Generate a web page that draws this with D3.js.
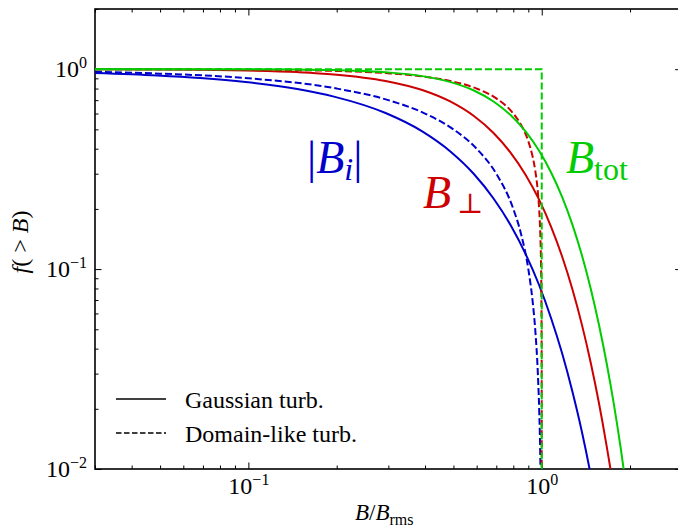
<!DOCTYPE html>
<html>
<head>
<meta charset="utf-8">
<script src="https://cdn.jsdelivr.net/npm/d3@7"></script>
<style>
  html, body { margin: 0; padding: 0; background: #fff; }
  svg { display: block; }
</style>
</head>
<body>
<div id="chart"></div>
<script>
// ---------------- data ----------------
const xDomain = [0.03, 3];
const yDomain = [0.01, 2];
const xTickLabels = [{v: 0.1, base: "10", exp: "\u22121"}, {v: 1, base: "10", exp: "0"}];
const yTickLabels = [{v: 0.01, base: "10", exp: "\u22122"}, {v: 0.1, base: "10", exp: "\u22121"}, {v: 1, base: "10", exp: "0"}];

// Gaussian turbulence (solid curves)
const xGauss     = [0.0294, 0.0489, 0.0685, 0.0978, 0.1468, 0.1957, 0.2935, 0.3914, 0.4892, 0.5871, 0.6849, 0.7828, 0.8806, 0.9785, 1.0763, 1.1742, 1.2720, 1.3699, 1.4677, 1.5656, 1.6634, 1.7613, 1.8591, 1.9570];
const blueSolid  = [0.9586, 0.9310, 0.9035, 0.8625, 0.7950, 0.7291, 0.6034, 0.4884, 0.3865, 0.2990, 0.2255, 0.1661, 0.1191, 0.0835, 0.0568, 0.0378, 0.0244, 0.0154, 0.0094, 0.0055, 0.0031, 0.0017, 0.0009, 0.0005];
const redSolid   = [0.9987, 0.9963, 0.9927, 0.9851, 0.9668, 0.9418, 0.8737, 0.7866, 0.6873, 0.5827, 0.4795, 0.3829, 0.2967, 0.2231, 0.1628, 0.1153, 0.0793, 0.0529, 0.0342, 0.0215, 0.0131, 0.0078, 0.0044, 0.0025];
const greenSolid = [1.0000, 0.9998, 0.9995, 0.9986, 0.9954, 0.9894, 0.9656, 0.9232, 0.8614, 0.7822, 0.6894, 0.5894, 0.4881, 0.3918, 0.3043, 0.2290, 0.1669, 0.1177, 0.0803, 0.0530, 0.0340, 0.0211, 0.0127, 0.0074];

// Domain-like turbulence (dashed curves)
const xBlueDash = [0.03, 0.05, 0.1, 0.2, 0.3, 0.4, 0.5, 0.6, 0.7, 0.8, 0.85, 0.9, 0.93, 0.95, 0.97, 0.98, 0.99, 0.995];
const blueDash  = [0.97, 0.95, 0.90, 0.80, 0.70, 0.60, 0.50, 0.40, 0.30, 0.20, 0.15, 0.10, 0.07, 0.05, 0.03, 0.02, 0.01, 0.005];
const xRedDash  = [0.03, 0.1, 0.2, 0.3, 0.4, 0.5, 0.6, 0.7, 0.8, 0.85, 0.9, 0.93, 0.95, 0.97, 0.98, 0.99, 0.995, 0.998, 0.999, 0.9995, 0.9999, 0.99995, 0.99999];
const redDash   = [0.9996, 0.9950, 0.9798, 0.9539, 0.9165, 0.8660, 0.8000, 0.7141, 0.6000, 0.5268, 0.4359, 0.3676, 0.3122, 0.2431, 0.1990, 0.1411, 0.0999, 0.0632, 0.0447, 0.0316, 0.0141, 0.0100, 0.0045];
const xGreenDash = [0.03, 1.0, 1.0];
const greenDash  = [1.0, 1.0, 0.005];

const colors = {blue: "#0000cc", red: "#cc0000", green: "#00cc00"};

// ---------------- layout ----------------
const W = 678, H = 530;
const mLeft = 95, mTop = 9, mBottom = 469;
const mRight = mLeft + 586.7;
const serif = "'Liberation Serif', 'Times New Roman', Times, 'DejaVu Serif', serif";

const svg = d3.select("#chart").append("svg").attr("width", W).attr("height", H)
  .attr("font-family", serif).style("font-family", serif);

const x = d3.scaleLog().domain(xDomain).range([mLeft, mRight]);
const y = d3.scaleLog().domain(yDomain).range([mBottom, mTop]);

svg.append("defs").append("clipPath").attr("id", "clip")
  .append("rect").attr("x", mLeft).attr("y", mTop).attr("width", mRight - mLeft).attr("height", mBottom - mTop);

// ticks
function tickVals(domain) {
  const vals = [];
  for (let e = -3; e <= 1; e++) for (let m = 1; m <= 9; m++) {
    const v = m * Math.pow(10, e);
    if (v >= domain[0] * 0.9999 && v <= domain[1] * 1.0001) vals.push(v);
  }
  return vals;
}
const isMajor = v => Math.abs(Math.log10(v) - Math.round(Math.log10(v))) < 1e-9;
const xt = tickVals(xDomain), yt = tickVals(yDomain);

function styleAxis(g) {
  g.select(".domain").remove();
  g.selectAll(".tick line").attr("stroke", "#000").attr("stroke-width", 1);
  g.selectAll(".tick text").remove();
}
function drawTicks(axisFn, scale, vals, transform) {
  const major = vals.filter(isMajor), minor = vals.filter(v => !isMajor(v));
  svg.append("g").attr("transform", transform)
    .call(axisFn(scale).tickValues(major).tickSize(-6.5).tickFormat("")).call(styleAxis);
  svg.append("g").attr("transform", transform)
    .call(axisFn(scale).tickValues(minor).tickSize(-3.5).tickFormat("")).call(styleAxis);
}
drawTicks(d3.axisBottom, x, xt, `translate(0,${mBottom})`);
drawTicks(d3.axisTop, x, xt, `translate(0,${mTop})`);
drawTicks(d3.axisLeft, y, yt, `translate(${mLeft},0)`);
drawTicks(d3.axisRight, y, yt, `translate(${mRight},0)`);

// frame
svg.append("rect").attr("x", mLeft).attr("y", mTop).attr("width", mRight - mLeft).attr("height", mBottom - mTop)
  .attr("fill", "none").attr("stroke", "#000").attr("stroke-width", 1.6);

// tick labels
function powLabel(sel) {
  sel.append("tspan").text(d => d.base);
  sel.append("tspan").attr("font-size", 16).attr("dy", -9).text(d => d.exp);
}
svg.append("g").selectAll("text").data(xTickLabels).join("text")
  .attr("x", d => x(d.v) + 0.5).attr("y", 494).attr("text-anchor", "middle")
  .attr("font-size", 24).call(powLabel);
svg.append("g").selectAll("text").data(yTickLabels).join("text")
  .attr("x", 87).attr("y", d => y(d.v) + 8).attr("text-anchor", "end")
  .attr("font-size", 24).call(powLabel);

// axis titles
const xl = svg.append("text").attr("x", 355).attr("y", 520).attr("font-size", 23);
xl.append("tspan").attr("font-style", "italic").text("B");
xl.append("tspan").text("/");
xl.append("tspan").attr("font-style", "italic").text("B");
xl.append("tspan").attr("font-size", 16).attr("dy", 5).text("rms");

const yl = svg.append("text").attr("transform", `translate(28,${(mTop + mBottom) / 2 + 3}) rotate(-90)`)
  .attr("text-anchor", "middle").attr("font-size", 24).attr("xml:space", "preserve");
yl.append("tspan").attr("font-style", "italic").text("f");
yl.append("tspan").text("( > ");
yl.append("tspan").attr("font-style", "italic").text("B");
yl.append("tspan").text(")");

// curves
const plot = svg.append("g").attr("clip-path", "url(#clip)");
function curve(xs, ys, color, dashed, linear) {
  const pts = xs.map((v, i) => [v, ys[i]]);
  const line = d3.line().x(d => x(d[0])).y(d => y(d[1]))
    .curve(linear ? d3.curveLinear : d3.curveMonotoneX);
  plot.append("path").attr("d", line(pts)).attr("fill", "none")
    .attr("stroke", color).attr("stroke-width", 2)
    .attr("stroke-dasharray", dashed ? "7,3" : null);
}
curve(xGauss, blueSolid, colors.blue, false);
curve(xBlueDash, blueDash, colors.blue, true);
curve(xGauss, redSolid, colors.red, false);
curve(xRedDash, redDash, colors.red, true);
curve(xGauss, greenSolid, colors.green, false);
curve(xGreenDash, greenDash, colors.green, true, true);

// curve labels
const lb = svg.append("text").attr("x", 307).attr("y", 173).attr("font-size", 46).attr("fill", colors.blue);
lb.append("tspan").text("|");
lb.append("tspan").attr("font-style", "italic").text("B");
lb.append("tspan").attr("font-style", "italic").attr("font-size", 32).attr("dy", 7).text("i");
lb.append("tspan").attr("dy", -7).text("|");

const lr = svg.append("text").attr("x", 423).attr("y", 208).attr("font-size", 46).attr("fill", colors.red);
lr.append("tspan").attr("font-style", "italic").text("B");
lr.append("tspan").attr("font-size", 28).attr("dx", 6).attr("dy", 5).text("\u22a5");

const lg = svg.append("text").attr("x", 566).attr("y", 173).attr("font-size", 46).attr("fill", colors.green);
lg.append("tspan").attr("font-style", "italic").text("B");
lg.append("tspan").attr("font-size", 32).attr("dy", 7).text("tot");

// legend
const legendItems = [{label: "Gaussian turb.", dash: null, yy: 399}, {label: "Domain-like turb.", dash: "5.5,2.5", yy: 433}];
const leg = svg.append("g");
leg.selectAll("line").data(legendItems).join("line")
  .attr("x1", 116).attr("x2", 166).attr("y1", d => d.yy).attr("y2", d => d.yy)
  .attr("stroke", "#000").attr("stroke-width", 1.5).attr("stroke-dasharray", d => d.dash);
leg.selectAll("text").data(legendItems).join("text")
  .attr("x", 185).attr("y", d => d.yy + 8.5).attr("font-size", 24).text(d => d.label);
</script>
</body>
</html>
